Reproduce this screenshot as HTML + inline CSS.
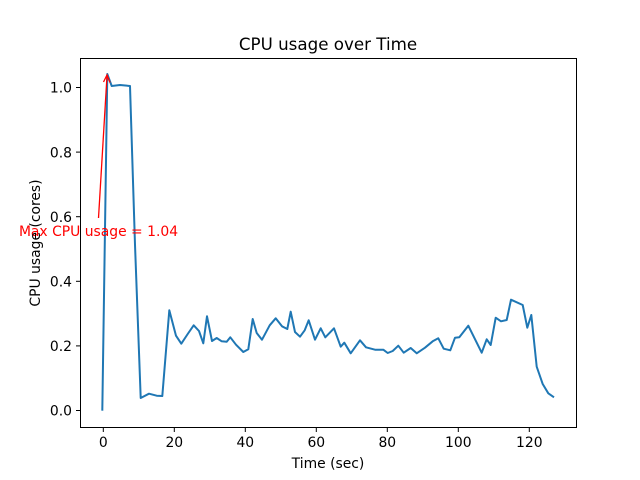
<!DOCTYPE html>
<html><head><meta charset="utf-8"><style>body{margin:0;background:#fff}svg{display:block;font-family:"DejaVu Sans","Liberation Sans",sans-serif}</style></head><body>
<svg width="640" height="480" xmlns="http://www.w3.org/2000/svg">
<rect width="640" height="480" fill="#fff"/>
<polyline fill="none" stroke="#1f77b4" stroke-width="2" stroke-linejoin="round" points="102.3,410.7 107.3,74 111.7,86 120,85 130,86 135,244.7 140.7,398 149,393.7 156.7,395.7 162.3,396 169.3,310.3 176,335.7 181.3,343.7 187.7,334 193.7,325.3 199,331 203.3,343.3 207,316.3 212,341 216.7,338 221.7,341.3 226.7,341.7 230.3,337.3 236,344.7 243.3,352 248.3,349.3 252.7,319 256.7,333 262,339.7 269.7,325.3 275.7,318.3 282,326.3 287.3,329 290.7,311.7 295,332 300,336.7 304.7,330.3 308.7,320.3 315,339.7 320.7,328.3 325.3,337.3 334,328.3 340.7,346.7 344.3,342.7 350.7,353.3 360,340.3 366,347.3 375,349.7 383.3,349.7 387.7,353 392.7,351 398.3,345.7 403.7,352.7 410.7,348 416.7,353.3 425,347.7 432.7,341.3 438.3,338.3 443.7,348.7 450.3,350.3 455,337.7 459.3,337.3 468.3,325.7 481.7,352.7 486.7,339.3 490.7,345 495.7,317.7 501,321.3 506.7,320 511,299.7 522.7,305 527.3,327.7 531.3,315 536.7,366.7 542.7,384 548.3,393.3 554,397.3"/>
<line x1="98.5" y1="218" x2="107" y2="76" stroke="red" stroke-width="1.3"/>
<polyline points="103.5,82 107,75 110,82.5" fill="none" stroke="red" stroke-width="1.3"/>
<text x="98.5" y="236" font-size="13.9" fill="red" text-anchor="middle">Max CPU usage = 1.04</text>
<rect x="80.5" y="58.5" width="496" height="369" fill="none" stroke="#000" stroke-width="1"/>
<g stroke="#000" stroke-width="1">
<line x1="103.3" y1="428" x2="103.3" y2="432"/><line x1="174.3" y1="428" x2="174.3" y2="432"/><line x1="245.3" y1="428" x2="245.3" y2="432"/><line x1="316.3" y1="428" x2="316.3" y2="432"/><line x1="387.3" y1="428" x2="387.3" y2="432"/><line x1="458.3" y1="428" x2="458.3" y2="432"/><line x1="529.3" y1="428" x2="529.3" y2="432"/>
<line x1="76" y1="410.5" x2="80" y2="410.5"/><line x1="76" y1="345.9" x2="80" y2="345.9"/><line x1="76" y1="281.3" x2="80" y2="281.3"/><line x1="76" y1="216.7" x2="80" y2="216.7"/><line x1="76" y1="152.1" x2="80" y2="152.1"/><line x1="76" y1="87.5" x2="80" y2="87.5"/>
</g>
<g font-size="13.9" fill="#000" text-anchor="middle">
<text x="103.3" y="447">0</text><text x="174.3" y="447">20</text><text x="245.3" y="447">40</text><text x="316.3" y="447">60</text><text x="387.3" y="447">80</text><text x="458.3" y="447">100</text><text x="529.3" y="447">120</text>
</g>
<g font-size="13.9" fill="#000" text-anchor="end">
<text x="72" y="415.5">0.0</text><text x="72" y="351">0.2</text><text x="72" y="286.5">0.4</text><text x="72" y="222">0.6</text><text x="72" y="157.5">0.8</text><text x="72" y="92.5">1.0</text>
</g>
<text x="328" y="468" font-size="13.9" text-anchor="middle">Time (sec)</text>
<text transform="translate(40,243) rotate(-90)" font-size="13.9" text-anchor="middle">CPU usage (cores)</text>
<text x="328" y="50" font-size="16.7" text-anchor="middle">CPU usage over Time</text>
</svg>
</body></html>
